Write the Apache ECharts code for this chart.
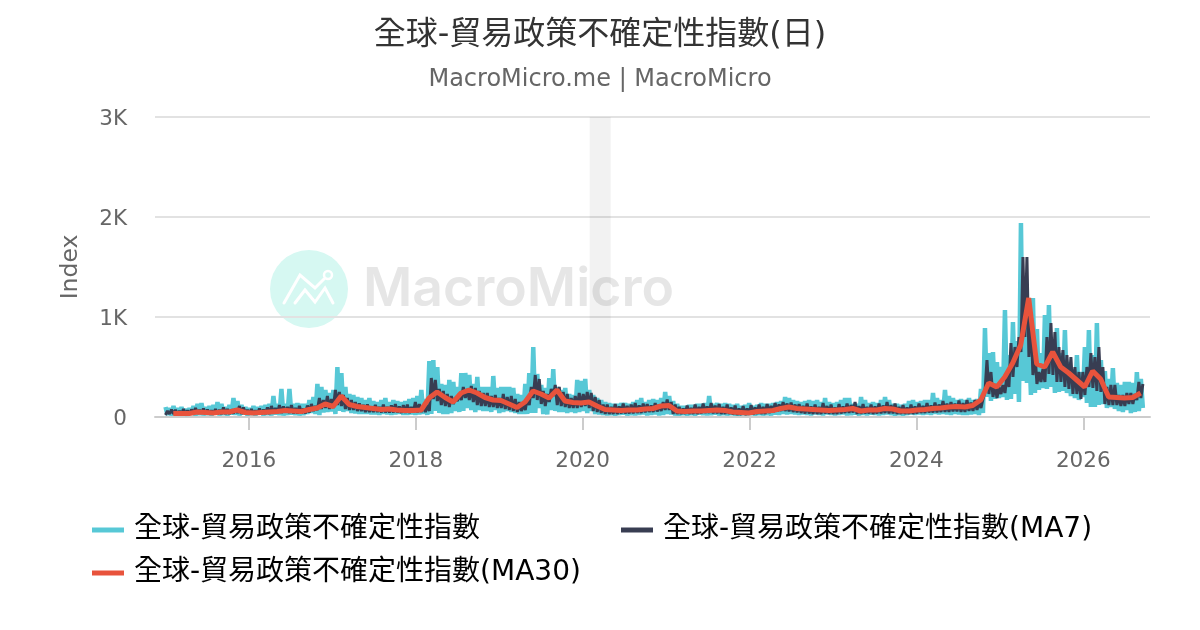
<!DOCTYPE html>
<html><head><meta charset="utf-8">
<style>html,body{margin:0;padding:0;background:#fff}#c{width:1200px;height:630px}</style>
<script src="https://cdn.jsdelivr.net/npm/echarts@6/dist/echarts.min.js"></script>
</head><body><div id="c"></div>
<script>
const FONT = '"DejaVu Sans","Noto Sans CJK TC",sans-serif';
const titleText = '全球-貿易政策不確定性指數(日)';
const subtitleText = 'MacroMicro.me | MacroMicro';
const nameRaw = '全球-貿易政策不確定性指數';
const nameMa7 = '全球-貿易政策不確定性指數(MA7)';
const nameMa30 = '全球-貿易政策不確定性指數(MA30)';
const yTicks = {0:'0',1000:'1K',2000:'2K',3000:'3K'};
const recession = ['2020-02-01','2020-05-03'];
const firstDay = '2015-01-01', stepDays = 17.5;
const firstDayMa30 = '2015-02-04', stepDaysMa30 = 35;

const rawPeaks = [
100,90,110,90,100,80,90,110,130,140,
100,110,120,150,130,100,120,190,160,120,
100,90,110,100,110,120,130,210,130,280,
130,280,130,140,130,130,170,200,330,300,
270,240,270,500,440,300,230,220,200,190,
170,190,160,150,170,190,150,170,160,150,
160,180,190,210,270,180,560,570,500,330,
320,370,350,300,440,440,420,330,400,300,
300,300,410,290,300,300,300,290,230,220,
330,440,700,430,320,290,390,480,300,270,
290,230,220,370,360,380,270,220,190,170,
150,140,130,130,140,140,130,150,170,190,
150,170,180,170,190,250,210,160,130,110,
110,120,120,130,130,140,210,130,140,130,
140,130,120,130,110,120,140,110,120,140,
130,130,140,150,160,200,190,170,160,150,
160,170,160,170,150,190,150,140,150,170,
190,190,130,130,200,170,140,150,140,170,
200,170,130,130,120,130,160,170,150,160,
170,170,240,190,170,270,210,190,170,180,
170,190,170,180,280,890,640,650,550,500,
1070,620,950,760,1940,1300,780,1190,880,640,
1020,1120,720,890,640,870,550,480,620,450,
700,870,620,940,570,460,380,490,340,320,
350,350,340,450,380];
const rawTroughs = [
20,15,25,15,20,15,25,15,20,15,
20,15,25,15,20,15,25,20,15,25,
15,20,15,25,15,20,15,25,20,15,
20,25,20,15,20,30,40,30,20,45,
50,55,30,60,50,60,40,35,30,30,
30,25,25,20,30,25,20,25,30,20,
20,25,20,25,30,20,30,60,40,30,
30,40,60,50,60,90,70,50,70,60,
60,50,70,40,50,60,50,40,30,30,
30,40,40,90,30,25,70,60,50,50,
40,50,40,50,60,40,60,30,25,20,
15,20,15,20,25,15,20,15,20,25,
15,20,25,15,20,30,25,15,15,20,
15,20,15,25,20,15,20,25,15,20,
15,20,15,15,20,15,20,15,20,15,
20,15,25,20,30,25,30,25,20,25,
20,15,25,20,15,25,20,15,20,25,
15,20,25,15,20,15,25,20,15,20,
25,20,15,20,15,20,25,20,25,20,
25,20,30,25,30,25,20,30,25,20,
20,25,30,20,40,200,160,180,190,200,
170,180,230,150,360,340,220,240,270,290,
280,300,240,250,260,240,210,190,170,200,
140,100,100,120,130,90,100,80,60,50,
70,40,50,60,90];
const ma7Peaks = [
60,75,70,60,80,65,75,90,70,85,
75,65,80,70,95,80,75,85,110,95,
70,80,65,85,75,95,110,90,120,105,
100,120,90,110,85,115,130,110,190,170,
210,180,270,250,220,190,170,150,135,120,
125,105,120,100,125,100,115,130,105,120,
125,100,150,130,115,120,390,370,280,260,
230,210,190,230,300,280,310,290,260,240,
240,210,220,190,230,200,210,180,150,130,
190,300,420,380,260,230,280,320,300,250,
230,190,210,240,230,250,240,200,170,125,
125,100,130,105,135,110,125,140,115,135,
130,115,140,125,150,175,150,125,100,85,
115,90,125,100,135,105,140,115,130,100,
125,95,115,85,110,85,120,95,125,100,
130,110,140,125,150,135,145,125,130,110,
135,105,125,100,140,110,125,95,130,105,
135,120,150,110,130,100,125,105,135,115,
150,120,135,100,120,95,125,105,135,110,
140,115,145,125,160,135,150,135,165,140,
170,145,170,150,180,570,450,330,300,320,
420,740,700,800,1600,1600,1000,650,450,480,
800,940,850,700,670,620,600,500,450,450,
500,640,600,700,500,300,320,320,220,220,
240,240,230,350,330];
const ma7Troughs = [
20,30,30,30,30,30,30,35,35,35,
30,30,30,30,30,30,30,35,40,30,
30,30,30,30,30,30,30,35,40,40,
45,40,35,35,35,35,45,60,70,80,
90,80,90,120,110,80,70,70,60,60,
50,50,50,50,45,45,45,45,45,40,
40,40,45,45,50,50,60,180,160,120,
110,100,130,160,170,190,170,150,120,110,
110,100,100,90,90,80,70,60,50,60,
70,120,190,170,130,110,150,210,120,110,
100,90,90,90,100,110,90,60,50,40,
30,30,30,30,35,35,35,35,40,40,
45,50,50,55,60,70,70,30,30,30,
30,30,30,30,35,40,40,35,35,30,
30,30,25,20,20,20,25,25,30,30,
30,40,45,55,60,60,55,50,45,40,
35,35,30,30,30,35,30,30,30,35,
40,40,45,30,30,35,35,30,35,35,
40,35,35,30,30,30,30,30,35,40,
40,45,45,45,50,50,50,55,55,50,
50,60,60,70,90,250,230,200,190,230,
240,300,400,500,650,800,600,420,330,350,
350,430,420,350,350,300,280,230,230,180,
220,300,290,260,250,130,120,120,120,110,
110,130,130,170,190];
const ma30Values = [
35,35,35,50,45,40,50,50,70,45,
40,45,50,55,65,60,55,75,90,130,
105,210,125,105,95,85,75,80,70,65,
65,70,190,250,195,150,240,270,240,195,170,
165,130,95,150,260,230,190,270,160,145,
140,150,110,75,70,65,70,70,80,85,
110,115,60,55,60,60,65,70,65,50,
45,40,55,60,65,85,100,85,80,75,
70,65,70,75,85,60,70,70,85,80,
60,60,70,75,85,90,100,105,100,115,
170,340,300,400,540,720,1190,530,500,650,
500,440,370,300,460,380,200,195,190,195,240];

function dates(start, step, n){const t0=Date.parse(start+'T00:00:00Z');return Array.from({length:n},(_, i)=>t0+i*step*864e5);}
const rawDates = dates(firstDay, stepDays/2, rawPeaks.length*2);
const rawValues = rawPeaks.flatMap((p,i)=>[p,rawTroughs[i]]);
const rawData = rawDates.map((d,i)=>[d,rawValues[i]]);
const ma7Values = ma7Peaks.flatMap((p,i)=>[ma7Troughs[i],p]);
const ma7Dates = dates(firstDay, stepDays/2, ma7Values.length);
const ma7Data = ma7Dates.map((d,i)=>[d,ma7Values[i]]);
const ma30Dates = dates(firstDayMa30, stepDaysMa30, ma30Values.length);
const ma30Data = ma30Dates.map((d,i)=>[d,ma30Values[i]]);

const legendBase = {itemWidth:32,itemHeight:5,itemGap:0,icon:'rect',textStyle:{fontFamily:FONT,fontSize:28,color:'#000',padding:[0,0,0,5]},selectedMode:false};
const chart = echarts.init(document.getElementById('c'),null,{renderer:'canvas'});
chart.setOption({
  animation:false,
  backgroundColor:'#fff',
  title:[
    {text:titleText,left:'center',top:15,textStyle:{fontFamily:FONT,fontSize:32,fontWeight:'normal',color:'#333'}},
    {text:subtitleText,left:'center',top:63,textStyle:{fontFamily:FONT,fontSize:24,fontWeight:'normal',color:'#666'}}
  ],
  graphic:[
    {type:'circle',z:-1,shape:{cx:309,cy:289,r:39},style:{fill:'#d6f8f2'}},
    {type:'polyline',z:-1,shape:{points:[[284,303],[300,275],[315,288],[324,279]]},style:{stroke:'#fff',lineWidth:3,fill:null,lineCap:'round'}},
    {type:'polyline',z:-1,shape:{points:[[295,303],[305,290],[315,302],[325,288],[333,303]]},style:{stroke:'#fff',lineWidth:3,fill:null,lineCap:'round'}},
    {type:'circle',z:-1,shape:{cx:328,cy:275,r:4},style:{stroke:'#fff',lineWidth:2.5,fill:'none'}},
    {type:'text',z:-1,x:363,y:290,style:{text:'MacroMicro',font:'600 53.5px Inter',fill:'#e6e6e6',textVerticalAlign:'middle',textAlign:'left'}}
  ],
  grid:{left:155,right:50,top:117,bottom:213},
  xAxis:{type:'time',min:Date.parse('2014-11-16'),max:Date.parse('2026-10-20'),
    minInterval:2*365*864e5,
    axisLine:{lineStyle:{color:'#ccc',width:2}},
    axisTick:{show:true,length:13,lineStyle:{color:'#ccc',width:2}},
    axisLabel:{formatter:'{yyyy}',fontFamily:FONT,fontSize:21.5,color:'#666',margin:34,showMinLabel:false,showMaxLabel:false},
    splitLine:{show:false}},
  yAxis:{type:'value',min:0,max:3000,interval:1000,
    name:'Index',nameLocation:'middle',nameGap:72,nameRotate:90,
    nameTextStyle:{fontFamily:FONT,fontSize:23.5,color:'#666'},
    axisLine:{show:false},axisTick:{show:false},
    axisLabel:{formatter:v=>yTicks[v],fontFamily:FONT,fontSize:21.5,color:'#666',margin:28,verticalAlign:'top',padding:[-8,0,0,0]},
    splitLine:{lineStyle:{color:'#e2e2e2',width:2}}},
  legend:[
    Object.assign({},legendBase,{data:[nameRaw],left:87,top:511}),
    Object.assign({},legendBase,{data:[nameMa7],left:616,top:511}),
    Object.assign({},legendBase,{data:[nameMa30],left:87,top:554})
  ],
  series:[
    {name:nameRaw,type:'line',data:rawData,showSymbol:false,sampling:null,z:2,
     lineStyle:{color:'#57c8d6',width:4.5},itemStyle:{color:'#57c8d6'},
     markArea:{silent:true,itemStyle:{color:'rgba(0,0,0,0.05)'},z:0,data:[[{xAxis:Date.parse(recession[0])},{xAxis:Date.parse(recession[1])}]]}},
    {name:nameMa7,type:'line',data:ma7Data,showSymbol:false,z:3,
     lineStyle:{color:'#383d52',width:3},itemStyle:{color:'#383d52'}},
    {name:nameMa30,type:'line',data:ma30Data,showSymbol:false,z:4,
     lineStyle:{color:'#e8533c',width:5},itemStyle:{color:'#e8533c'}}
  ]
});
</script></body></html>
